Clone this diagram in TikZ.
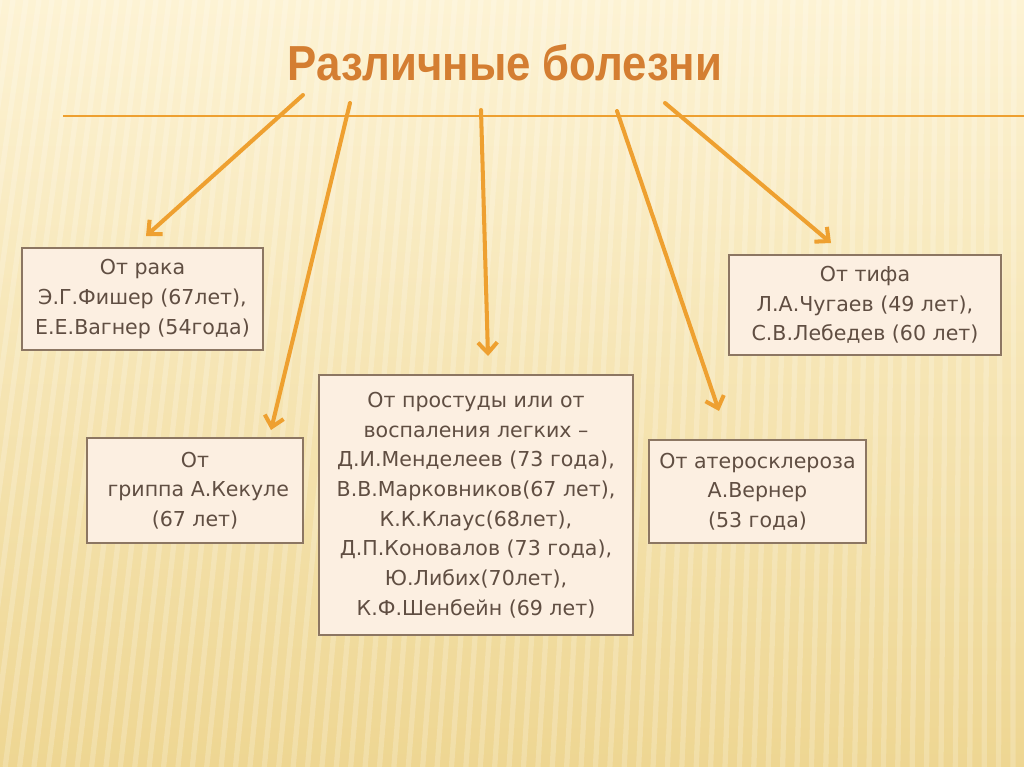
\documentclass[tikz,border=0pt]{standalone}
\usepackage{fontspec}
\setmainfont{DejaVu Sans}
\newfontfamily\titlefont{Liberation Sans}
\usepackage{xcolor}
\usetikzlibrary{arrows.meta, positioning, calc}
\definecolor{bgtop}{RGB}{253,243,212}
\definecolor{bgbottom}{RGB}{238,214,146}
\definecolor{arroworange}{RGB}{238,160,48}
\definecolor{titleorange}{RGB}{212,126,50}
\definecolor{boxfill}{RGB}{252,239,225}
\definecolor{boxline}{RGB}{140,118,98}
\definecolor{boxtext}{RGB}{96,78,66}

\begin{document}
\begin{tikzpicture}[x=0.02cm, y=-0.02cm,
        box/.style={rectangle, draw=boxline, line width=0.8pt, fill=boxfill, inner sep=0pt, align=center, text=boxtext, font=\fontsize{11.7}{16.9}\selectfont},
        arr/.style={draw=arroworange, line width=2.3pt, line cap=round, -{Straight Barb[length=6pt, width=11pt]}},
        stripe/.style={white, opacity=0.2, line width=3pt},
    ]
        \useasboundingbox (0,0) rectangle (1024,767);
        % Background
        \shade[top color=bgtop, bottom color=bgbottom] (0,0) rectangle (1024,767);
        \begin{scope}
            \clip (0,0) rectangle (1024,767);
            \foreach \x in {0,13,...,1150}
                \draw[stripe] (\x,0) -- ({\x-110*(1-\x/1024)},767);
        \end{scope}

        % Title
        \node[text=titleorange, font=\titlefont\bfseries\fontsize{28}{34}\selectfont, xscale=0.89, transform shape] (title) at (505,63) {Различные болезни};
        \draw[arroworange, line width=1.6pt] (63,116) -- (1024,116);

        % Disease boxes
        \node[box, minimum width=4.82cm, minimum height=2.04cm] (rak)    at (142.5,299) {От рака\\Э.Г.Фишер (67лет),\\Е.Е.Вагнер (54года)};
        \node[box, minimum width=4.32cm, minimum height=2.10cm] (gripp)  at (195,490.5) {От\\ \ гриппа А.Кекуле\\(67 лет)};
        \node[box, minimum width=6.28cm, minimum height=5.20cm] (prost)  at (476,505) {От простуды или от\\воспаления легких –\\Д.И.Менделеев (73 года),\\В.В.Марковников(67 лет),\\К.К.Клаус(68лет),\\Д.П.Коновалов (73 года),\\Ю.Либих(70лет),\\К.Ф.Шенбейн (69 лет)};
        \node[box, minimum width=4.34cm, minimum height=2.06cm] (atero)  at (757.5,491.5) {От атеросклероза\\А.Вернер\\(53 года)};
        \node[box, minimum width=5.44cm, minimum height=2.00cm] (tif)    at (865,305) {От тифа\\Л.А.Чугаев (49 лет),\\С.В.Лебедев (60 лет)};

        % Arrow ends
        \coordinate (s1) at (303,95);   \coordinate (e1) at (146,236);
        \coordinate (s2) at (350,103);  \coordinate (e2) at (271,430);
        \coordinate (s3) at (481,110);  \coordinate (e3) at (488,356);
        \coordinate (s4) at (617,111);  \coordinate (e4) at (719,411);
        \coordinate (s5) at (665,103);  \coordinate (e5) at (831,243);

        \foreach \i in {1,...,5}
            \draw[arr] (s\i) -- (e\i);
    \end{tikzpicture}
\end{document}
